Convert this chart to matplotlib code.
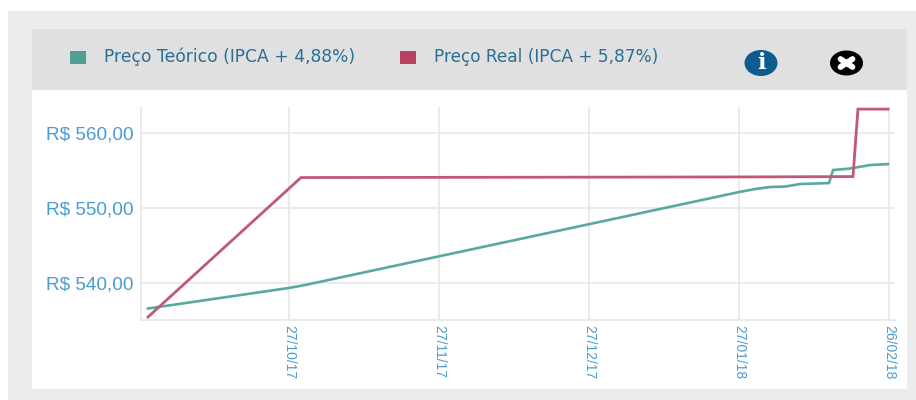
import matplotlib
matplotlib.use("Agg")
import matplotlib.pyplot as plt
from matplotlib.patches import Rectangle, Ellipse

# x values are in months from 27/10/17, the chart spaces its labels evenly
tick_pos = [0, 1, 2, 3, 4]
tick_labels = ["27/10/17", "27/11/17", "27/12/17", "27/01/18", "26/02/18"]
y_ticks = [540, 550, 560]
y_labels = ["R$ 540,00", "R$ 550,00", "R$ 560,00"]

teorico_x = [-0.94, 0, 0.107, 3, 3.107, 3.207, 3.307, 3.407, 3.507, 3.6, 3.627, 3.74, 3.873, 3.993]
teorico_y = [536.61, 539.34, 539.73, 552.09, 552.49, 552.76, 552.82, 553.16, 553.22, 553.29, 555.02, 555.22, 555.68, 555.81]
real_x = [-0.94, 0.08, 3.0, 3.76, 3.793, 3.993]
real_y = [535.48, 554.02, 554.1, 554.15, 563.12, 563.12]

teal = "#5aa99f"
red = "#c0587a"
blue = "#4a9ccf"
W, H = 916, 400

fig = plt.figure(figsize=(9.16, 4.0), dpi=100)

# page background and panels, in pixels
bg = fig.add_axes([0, 0, 1, 1])
bg.set_xlim(0, W)
bg.set_ylim(H, 0)
bg.axis("off")
bg.add_patch(Rectangle((8, 11), 908, 389, color="#ececec", lw=0))
bg.add_patch(Rectangle((32, 29), 875, 360, color="white", lw=0))
bg.add_patch(Rectangle((32, 29), 875, 61, color="#e0e0e0", lw=0))

# legend
bg.add_patch(Rectangle((70, 50.5), 16, 13, color="#4f9f96", lw=0))
bg.add_patch(Rectangle((400, 50.5), 16, 13, color="#b84262", lw=0))
bg.text(104, 57, "Preço Teórico (IPCA + 4,88%)", color="#2a6f96", fontsize=12.35,
        va="center", ha="left", family="DejaVu Sans")
bg.text(434, 57, "Preço Real (IPCA + 5,87%)", color="#2a6f96", fontsize=12.25,
        va="center", ha="left", family="DejaVu Sans")

# info and close icons
bg.add_patch(Ellipse((761, 63), 33, 26, color="#0d5c8f", lw=0))
bg.text(761, 63, "i", color="white", fontsize=16, fontweight="bold", family="DejaVu Serif",
        ha="center", va="center")
bg.add_patch(Ellipse((846.5, 63), 33, 25, color="black", lw=0))
bg.plot([840.5, 852.5], [59, 67], color="white", lw=4.2, solid_capstyle="round")
bg.plot([840.5, 852.5], [67, 59], color="white", lw=4.2, solid_capstyle="round")

# chart
left, right, top, bottom = 140.5, 895, 107, 320
ax = fig.add_axes([left / W, 1 - bottom / H, (right - left) / W, (bottom - top) / H])
ax.patch.set_alpha(0)
ax.set_xlim(-0.99, 4.04)
ax.set_ylim(535.08, 563.4)
ax.plot(teorico_x, teorico_y, color=teal, lw=1.9, solid_joinstyle="miter", zorder=3)
ax.plot(real_x, real_y, color=red, lw=2.0, solid_joinstyle="miter", zorder=4)

ax.set_xticks(tick_pos)
ax.set_xticklabels(tick_labels, rotation=-90, ha="center", va="top", color=blue,
                   fontsize=10, family="Liberation Sans")
ax.set_yticks(y_ticks)
ax.set_yticklabels(y_labels, color=blue, fontsize=13.7, family="Liberation Sans")
ax.grid(True, color="#e8e8e8", lw=1.2, zorder=0)
ax.set_axisbelow(True)
ax.tick_params(length=0)
ax.tick_params(axis="x", pad=3.5)
ax.tick_params(axis="y", pad=5)
for s in ["top", "right"]:
    ax.spines[s].set_visible(False)
for s in ["left", "bottom"]:
    ax.spines[s].set_color("#e8e8e8")
    ax.spines[s].set_linewidth(1.2)

fig.savefig("out.png", dpi=100)
